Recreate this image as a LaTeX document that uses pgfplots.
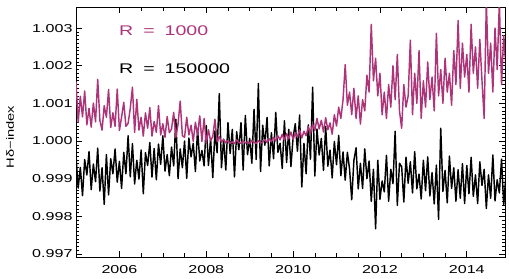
\documentclass[border=0pt]{standalone}
\usepackage{pgfplots}
\pgfplotsset{compat=1.18}
\usepackage{fontspec}
\setmainfont{Liberation Sans}[FakeStretch=1.4]
\definecolor{mag}{RGB}{174,52,122}
\begin{document}
\begin{tikzpicture}
\path[use as bounding box] (0,0) rectangle (509bp,279bp);
\begin{axis}[
  at={(76bp,22bp)}, anchor=south west,
  scale only axis, width=429bp, height=250bp,
  xmin=2005, xmax=2014.88, ymin=0.99692, ymax=1.00356,
  xtick={2006,2008,2010,2012,2014},
  ytick={0.997,0.998,0.999,1.000,1.001,1.002,1.003},
  minor x tick num=3, minor y tick num=9,
  major tick length=6bp, minor tick length=3.5bp,
  tick align=inside,
  axis line style={line width=0.8bp},
  every tick/.style={black, line width=0.6bp},
  /pgf/number format/assume math mode=true,
  xticklabel style={font=\fontsize{11.5bp}{13bp}\selectfont, yshift=-5bp, /pgf/number format/1000 sep={}},
  yticklabel style={font=\fontsize{11.5bp}{13bp}\selectfont, /pgf/number format/.cd, fixed, fixed zerofill, precision=3},
  ylabel={Hδ−index},
  ylabel style={at={(axis description cs:-0.145,0.48)}, anchor=base, rotate=0, font=\fontsize{10.5bp}{12bp}\selectfont},
  clip=true,
]
\addplot[black, line width=1.45bp, line join=round] coordinates {
(2005.00,0.99962)(2005.05,0.99875)(2005.10,0.99930)(2005.15,0.99855)(2005.20,0.99951)(2005.25,0.99910)(2005.30,0.99972)(2005.35,0.99871)(2005.40,0.99939)(2005.45,0.99892)
(2005.50,0.99981)(2005.55,0.99867)(2005.60,0.99929)(2005.65,0.99832)(2005.70,0.99964)(2005.75,0.99857)(2005.80,0.99953)(2005.85,0.99913)(2005.90,0.99979)(2005.95,0.99891)
(2006.00,0.99946)(2006.05,0.99874)(2006.10,0.99970)(2006.15,0.99913)(2006.20,1.00014)(2006.25,0.99905)(2006.30,0.99993)(2006.35,0.99886)(2006.40,0.99949)(2006.45,0.99899)
(2006.50,0.99976)(2006.55,0.99860)(2006.60,0.99969)(2006.65,0.99935)(2006.70,0.99996)(2006.75,0.99904)(2006.80,0.99980)(2006.85,0.99897)(2006.90,0.99992)(2006.95,0.99938)
(2007.00,1.00014)(2007.05,0.99920)(2007.10,0.99964)(2007.15,0.99908)(2007.20,0.99984)(2007.25,0.99934)(2007.30,1.00058)(2007.35,0.99900)(2007.40,0.99979)(2007.45,0.99929)
(2007.50,1.00000)(2007.55,0.99901)(2007.60,1.00008)(2007.65,0.99958)(2007.70,0.99994)(2007.75,0.99919)(2007.80,1.00032)(2007.85,0.99947)(2007.90,0.99975)(2007.95,0.99934)
(2008.00,1.00041)(2008.05,0.99935)(2008.10,1.00006)(2008.15,0.99903)(2008.20,1.00027)(2008.25,0.99969)(2008.30,1.00126)(2008.35,0.99929)(2008.40,1.00005)(2008.45,0.99923)
(2008.50,1.00049)(2008.55,0.99967)(2008.60,1.00031)(2008.65,0.99905)(2008.70,1.00025)(2008.75,0.99977)(2008.80,1.00049)(2008.85,0.99923)(2008.90,1.00068)(2008.95,0.99964)
(2009.00,1.00007)(2009.05,0.99941)(2009.10,1.00084)(2009.15,0.99951)(2009.20,1.00153)(2009.25,0.99919)(2009.30,1.00042)(2009.35,0.99989)(2009.40,1.00063)(2009.45,0.99934)
(2009.50,1.00022)(2009.55,0.99953)(2009.60,1.00076)(2009.65,0.99970)(2009.70,0.99994)(2009.75,0.99927)(2009.80,1.00054)(2009.85,0.99943)(2009.90,1.00031)(2009.95,0.99932)
(2010.00,1.00010)(2010.05,1.00046)(2010.10,0.99973)(2010.15,1.00069)(2010.20,0.99878)(2010.25,0.99994)(2010.30,0.99913)(2010.35,1.00043)(2010.40,0.99952)(2010.45,1.00143)
(2010.50,0.99907)(2010.55,1.00032)(2010.60,0.99963)(2010.65,1.00007)(2010.70,0.99922)(2010.75,1.00039)(2010.80,0.99933)(2010.85,0.99976)(2010.90,0.99902)(2010.95,0.99999)
(2011.00,0.99937)(2011.05,1.00015)(2011.10,0.99908)(2011.15,0.99971)(2011.20,0.99896)(2011.25,0.99970)(2011.30,0.99926)(2011.35,0.99844)(2011.40,0.99949)(2011.45,0.99982)
(2011.50,0.99873)(2011.55,0.99941)(2011.60,0.99874)(2011.65,0.99979)(2011.70,0.99900)(2011.75,0.99947)(2011.80,0.99840)(2011.85,0.99925)(2011.90,0.99767)(2011.95,0.99949)
(2012.00,0.99845)(2012.05,0.99894)(2012.10,0.99865)(2012.15,0.99962)(2012.20,0.99840)(2012.25,0.99925)(2012.30,0.99887)(2012.35,1.00026)(2012.40,0.99829)(2012.45,0.99941)
(2012.50,0.99932)(2012.55,0.99838)(2012.60,0.99957)(2012.65,0.99888)(2012.70,0.99945)(2012.75,0.99862)(2012.80,0.99972)(2012.85,0.99873)(2012.90,0.99912)(2012.95,0.99846)
(2013.00,0.99949)(2013.05,0.99868)(2013.10,0.99958)(2013.15,0.99854)(2013.20,0.99916)(2013.25,0.99833)(2013.30,0.99936)(2013.35,0.99792)(2013.40,1.00034)(2013.45,0.99866)
(2013.50,0.99922)(2013.55,0.99836)(2013.60,0.99960)(2013.65,0.99874)(2013.70,0.99929)(2013.75,0.99840)(2013.80,0.99924)(2013.85,0.99848)(2013.90,0.99940)(2013.95,0.99834)
(2014.00,0.99935)(2014.05,0.99860)(2014.10,0.99957)(2014.15,0.99853)(2014.20,0.99910)(2014.25,0.99834)(2014.30,0.99945)(2014.35,0.99882)(2014.40,0.99925)(2014.45,0.99821)
(2014.50,0.99910)(2014.55,0.99848)(2014.60,0.99963)(2014.65,0.99841)(2014.70,0.99897)(2014.75,0.99862)(2014.80,0.99952)(2014.85,0.99831)(2014.90,0.99907)
};
\addplot[mag, line width=1.45bp, line join=round] coordinates {
(2005.00,1.00158)(2005.05,1.00050)(2005.10,1.00119)(2005.15,1.00064)(2005.20,1.00133)(2005.25,1.00043)(2005.30,1.00087)(2005.35,1.00037)(2005.40,1.00101)(2005.45,1.00051)
(2005.50,1.00164)(2005.55,1.00055)(2005.60,1.00029)(2005.65,1.00094)(2005.70,1.00063)(2005.75,1.00137)(2005.80,1.00036)(2005.85,1.00075)(2005.90,1.00039)(2005.95,1.00138)
(2006.00,1.00028)(2006.05,1.00064)(2006.10,1.00103)(2006.15,1.00039)(2006.20,1.00047)(2006.25,1.00087)(2006.30,1.00143)(2006.35,1.00023)(2006.40,1.00111)(2006.45,1.00029)
(2006.50,1.00063)(2006.55,1.00013)(2006.60,1.00075)(2006.65,1.00034)(2006.70,1.00089)(2006.75,1.00013)(2006.80,1.00052)(2006.85,1.00023)(2006.90,1.00094)(2006.95,1.00016)
(2007.00,1.00046)(2007.05,1.00010)(2007.10,1.00065)(2007.15,1.00022)(2007.20,1.00032)(2007.25,1.00076)(2007.30,1.00010)(2007.35,1.00045)(2007.40,1.00106)(2007.45,1.00014)
(2007.50,1.00010)(2007.55,1.00063)(2007.60,1.00016)(2007.65,1.00042)(2007.70,0.99999)(2007.75,1.00050)(2007.80,1.00016)(2007.85,1.00067)(2007.90,0.99999)(2007.95,1.00060)
(2008.00,0.99994)(2008.05,1.00030)(2008.10,1.00001)(2008.15,1.00012)(2008.20,1.00058)(2008.25,0.99998)(2008.30,1.00012)(2008.35,0.99997)(2008.40,1.00004)(2008.45,0.99995)
(2008.50,1.00001)(2008.55,0.99994)(2008.60,0.99998)(2008.65,0.99993)(2008.70,1.00003)(2008.75,0.99996)(2008.80,0.99994)(2008.85,1.00000)(2008.90,0.99995)(2008.95,0.99997)
(2009.00,0.99993)(2009.05,1.00002)(2009.10,0.99996)(2009.15,0.99994)(2009.20,1.00001)(2009.25,0.99995)(2009.30,0.99997)(2009.35,1.00004)(2009.40,0.99996)(2009.45,1.00006)
(2009.50,0.99998)(2009.55,1.00010)(2009.60,1.00000)(2009.65,1.00014)(2009.70,1.00003)(2009.75,1.00018)(2009.80,1.00002)(2009.85,1.00020)(2009.90,1.00006)(2009.95,1.00024)
(2010.00,1.00004)(2010.05,1.00022)(2010.10,1.00010)(2010.15,1.00030)(2010.20,1.00008)(2010.25,1.00026)(2010.30,1.00014)(2010.35,1.00038)(2010.40,1.00020)(2010.45,1.00045)
(2010.50,1.00028)(2010.55,1.00060)(2010.60,1.00032)(2010.65,1.00055)(2010.70,1.00024)(2010.75,1.00062)(2010.80,1.00030)(2010.85,1.00048)(2010.90,1.00018)(2010.95,1.00070)
(2011.00,1.00040)(2011.05,1.00090)(2011.10,1.00060)(2011.15,1.00110)(2011.20,1.00203)(2011.25,1.00095)(2011.30,1.00130)(2011.35,1.00070)(2011.40,1.00140)(2011.45,1.00060)
(2011.50,1.00120)(2011.55,1.00045)(2011.60,1.00110)(2011.65,1.00080)(2011.70,1.00175)(2011.75,1.00130)(2011.80,1.00310)(2011.85,1.00160)(2011.90,1.00220)(2011.95,1.00120)
(2012.00,1.00180)(2012.05,1.00070)(2012.10,1.00130)(2012.15,1.00060)(2012.20,1.00150)(2012.25,1.00090)(2012.30,1.00200)(2012.35,1.00110)(2012.40,1.00230)(2012.45,1.00080)
(2012.50,1.00034)(2012.55,1.00150)(2012.60,1.00090)(2012.65,1.00120)(2012.70,1.00268)(2012.75,1.00070)(2012.80,1.00180)(2012.85,1.00100)(2012.90,1.00240)(2012.95,1.00060)
(2013.00,1.00160)(2013.05,1.00090)(2013.10,1.00210)(2013.15,1.00110)(2013.20,1.00170)(2013.25,1.00080)(2013.30,1.00286)(2013.35,1.00120)(2013.40,1.00190)(2013.45,1.00100)
(2013.50,1.00220)(2013.55,1.00130)(2013.60,1.00180)(2013.65,1.00095)(2013.70,1.00240)(2013.75,1.00150)(2013.80,1.00320)(2013.85,1.00140)(2013.90,1.00260)(2013.95,1.00170)
(2014.00,1.00230)(2014.05,1.00130)(2014.10,1.00310)(2014.15,1.00180)(2014.20,1.00250)(2014.25,1.00140)(2014.30,1.00270)(2014.35,1.00160)(2014.40,1.00060)(2014.45,1.00370)
(2014.50,1.00180)(2014.55,1.00260)(2014.60,1.00130)(2014.65,1.00300)(2014.70,1.00190)(2014.75,1.00370)(2014.80,1.00150)(2014.85,1.00280)(2014.90,1.00200)
};
\node[anchor=base west, text=mag, font=\fontsize{14bp}{16bp}\selectfont, inner sep=0pt] at (rel axis cs:0.1,0.888) {R\hspace{10bp}=\hspace{10bp}1000};
\node[anchor=base west, text=black, font=\fontsize{14bp}{16bp}\selectfont, inner sep=0pt] at (rel axis cs:0.1,0.736) {R\hspace{10bp}=\hspace{10bp}150000};
\end{axis}
\end{tikzpicture}
\end{document}
